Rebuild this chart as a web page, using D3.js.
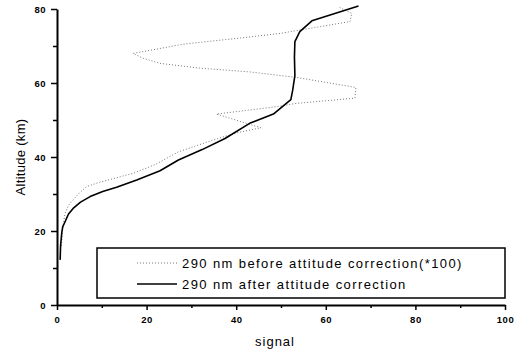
<!DOCTYPE html>
<html><head><meta charset="utf-8">
<script src="https://cdn.jsdelivr.net/npm/d3@7"></script>
<style>body{margin:0;background:#fff}svg{display:block}</style>
</head><body>
<svg id="c" width="516" height="355"></svg>
<script>
const afterSignal = [0.7,0.8,1.05,1.27,1.8,2.57,3.6,5.25,7.4,10.2,13.3,17.8,23,27.1,32.4,37.5,43,48.3,52.2,52.6,53.1,53,53.1,54.2,56.9,67.3];
const afterAlt    = [12.2,16,19.4,21.1,22.5,24.6,26.1,27.8,29.3,30.7,31.8,33.8,36.3,39.2,42,45,49.1,51.6,55.5,58,62,67,71.2,73.9,76.8,80.8];
const beforeSignal = [1.0,1.3,1.8,2.6,3.6,5,6.6,9.6,13,17,22,27.1,34.9,40,45.5,35.6,49,53.5,66.5,66.7,53.5,43,32,23,19.2,17,19.3,28.2,42.7,49.8,65.4,65.8,62.8];
const beforeAlt    = [16,21,24.8,27,28.4,30.3,32,33.2,34.3,35.6,38,41.4,44.6,46.5,47.9,51.6,53.6,54.5,55.9,58.8,61.5,63,64,65.3,66.7,68,68.5,70.5,72.4,73.4,76.6,78.8,80.6];
const xMajor = [0,20,40,60,80,100];
const xMinor = [10,30,50,70,90];
const yMajor = [0,20,40,60,80];
const yMinor = [10,30,50,70];
const legendLabels = ["290 nm before attitude correction(*100)","290 nm after attitude correction"];
const xTitle = "signal", yTitle = "Altitude (km)";

const svg = d3.select("#c");
const x = d3.scaleLinear().domain([0,100]).range([57,505]);
const y = d3.scaleLinear().domain([0,80]).range([305,9]);

svg.append("g").attr("transform","translate(0,305)")
  .call(d3.axisBottom(x).tickValues(xMajor).tickSize(5).tickSizeOuter(0).tickPadding(6));
svg.append("g").attr("transform","translate(0,305)")
  .call(d3.axisBottom(x).tickValues(xMinor).tickSize(3).tickSizeOuter(0).tickFormat(""))
  .select(".domain").remove();
svg.append("g").attr("transform","translate(57,0)")
  .call(d3.axisLeft(y).tickValues(yMajor).tickSize(6).tickSizeOuter(0).tickPadding(5));
svg.append("g").attr("transform","translate(57,0)")
  .call(d3.axisLeft(y).tickValues(yMinor).tickSize(4).tickSizeOuter(0).tickFormat(""))
  .select(".domain").remove();
svg.selectAll(".domain").attr("stroke","#000").attr("stroke-width",2);
svg.selectAll(".tick line").attr("stroke","#000").attr("stroke-width",1.5);
svg.selectAll(".tick text").attr("font-family","Liberation Sans, Arial, sans-serif")
  .attr("font-size",9.5).attr("font-weight","bold").attr("fill","#000").attr("letter-spacing",0.5);

svg.append("text").attr("x",275).attr("y",346).attr("text-anchor","middle")
  .attr("font-family","Liberation Sans, Arial, sans-serif").attr("font-size",13)
  .attr("letter-spacing",1).text(xTitle);
svg.append("text").attr("transform","translate(25,157) rotate(-90)").attr("text-anchor","middle")
  .attr("font-family","Liberation Sans, Arial, sans-serif").attr("font-size",13)
  .attr("letter-spacing",0.3).text(yTitle);

const before = beforeSignal.map((s,i)=>[s,beforeAlt[i]]);
const after = afterSignal.map((s,i)=>[s,afterAlt[i]]);
const line = d3.line().x(d=>x(d[0])).y(d=>y(d[1]));
svg.append("path").attr("d",line(before)).attr("fill","none")
  .attr("stroke","#777").attr("stroke-width",1).attr("stroke-dasharray","1,2");
svg.append("path").attr("d",line(after)).attr("fill","none")
  .attr("stroke","#000").attr("stroke-width",1.6).attr("stroke-linejoin","round");

const lg = svg.append("g");
lg.append("rect").attr("x",97).attr("y",248).attr("width",408).attr("height",50)
  .attr("fill","#fff").attr("stroke","#000").attr("stroke-width",1.5);
const rows = [{y:263, dash:"1,2", col:"#777", w:1},{y:284, dash:null, col:"#000", w:1.6}];
rows.forEach((r,i)=>{
  lg.append("line").attr("x1",137).attr("x2",177).attr("y1",r.y).attr("y2",r.y)
    .attr("stroke",r.col).attr("stroke-width",r.w).attr("stroke-dasharray",r.dash);
  lg.append("text").attr("x",182).attr("y",r.y+4.5)
    .attr("font-family","Liberation Sans, Arial, sans-serif").attr("font-size",13)
    .attr("letter-spacing",1.4).text(legendLabels[i]);
});
</script>
</body></html>
